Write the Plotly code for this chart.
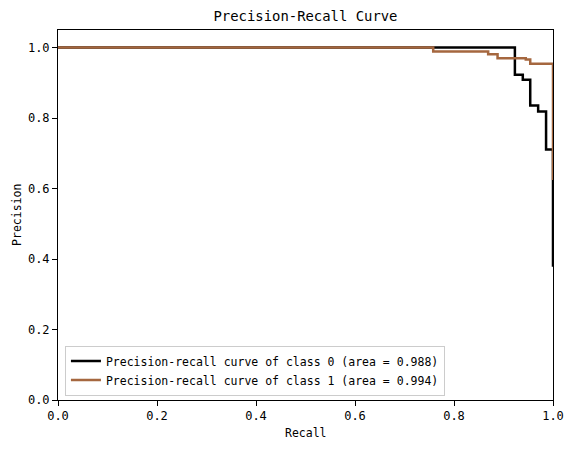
import plotly.graph_objects as go

# class 0 curve (recall, precision) step points
recall_0 = [0.0, 0.923, 0.939, 0.954, 0.970, 0.986, 1.0]
precision_0 = [1.0, 0.923, 0.909, 0.836, 0.819, 0.711, 0.378]

# class 1 curve
recall_1 = [0.0, 0.758, 0.869, 0.888, 0.945, 0.954, 1.0]
precision_1 = [1.0, 0.989, 0.981, 0.970, 0.966, 0.954, 0.624]

names = ["Precision-recall curve of class 0 (area = 0.988)",
         "Precision-recall curve of class 1 (area = 0.994)"]
colors = ["#000000", "#a5673f"]

font = "DejaVu Sans Mono, monospace"

fig = go.Figure()
fig.add_trace(go.Scatter(x=recall_0, y=precision_0, mode="lines", name=names[0],
                         line=dict(color=colors[0], width=2.5, shape="hv")))
fig.add_trace(go.Scatter(x=recall_1, y=precision_1, mode="lines", name=names[1],
                         line=dict(color=colors[1], width=2.5, shape="hv")))

axis_style = dict(
    showgrid=False, zeroline=False, showline=True, linecolor="black", linewidth=1,
    mirror=True, ticks="outside", ticklen=5, tickcolor="black", tickwidth=1,
    tickfont=dict(family=font, size=12, color="black"),
    tickformat=".1f", dtick=0.2, automargin=False,
)

# page has an 8px body margin, so the figure is a bit smaller than the window
fig.update_layout(
    width=566, height=441,
    margin=dict(l=50, r=21, t=22, b=49),
    paper_bgcolor="white", plot_bgcolor="white",
    title=dict(text="Precision-Recall Curve", xref="paper", x=0.5, xanchor="center",
               y=0.982, yanchor="middle",
               font=dict(family=font, size=13.9, color="black")),
    xaxis=dict(axis_style, range=[0, 1]),
    yaxis=dict(axis_style, range=[0, 1.05], tick0=0),
    legend=dict(x=0.014, y=0.012, xanchor="left", yanchor="bottom",
                bgcolor="rgba(255,255,255,0.8)", bordercolor="#cccccc", borderwidth=1,
                font=dict(family=font, size=11.5, color="black"),
                itemwidth=30, tracegroupgap=0),
    showlegend=True,
    annotations=[
        dict(text="Recall", xref="paper", yref="paper", x=0.5, y=-0.089,
             xanchor="center", yanchor="middle", showarrow=False,
             font=dict(family=font, size=11.5, color="black")),
        dict(text="Precision", xref="paper", yref="paper", x=-0.083, y=0.5,
             xanchor="center", yanchor="middle", showarrow=False, textangle=-90,
             font=dict(family=font, size=11.5, color="black")),
    ],
)

fig.write_html("out.html")
